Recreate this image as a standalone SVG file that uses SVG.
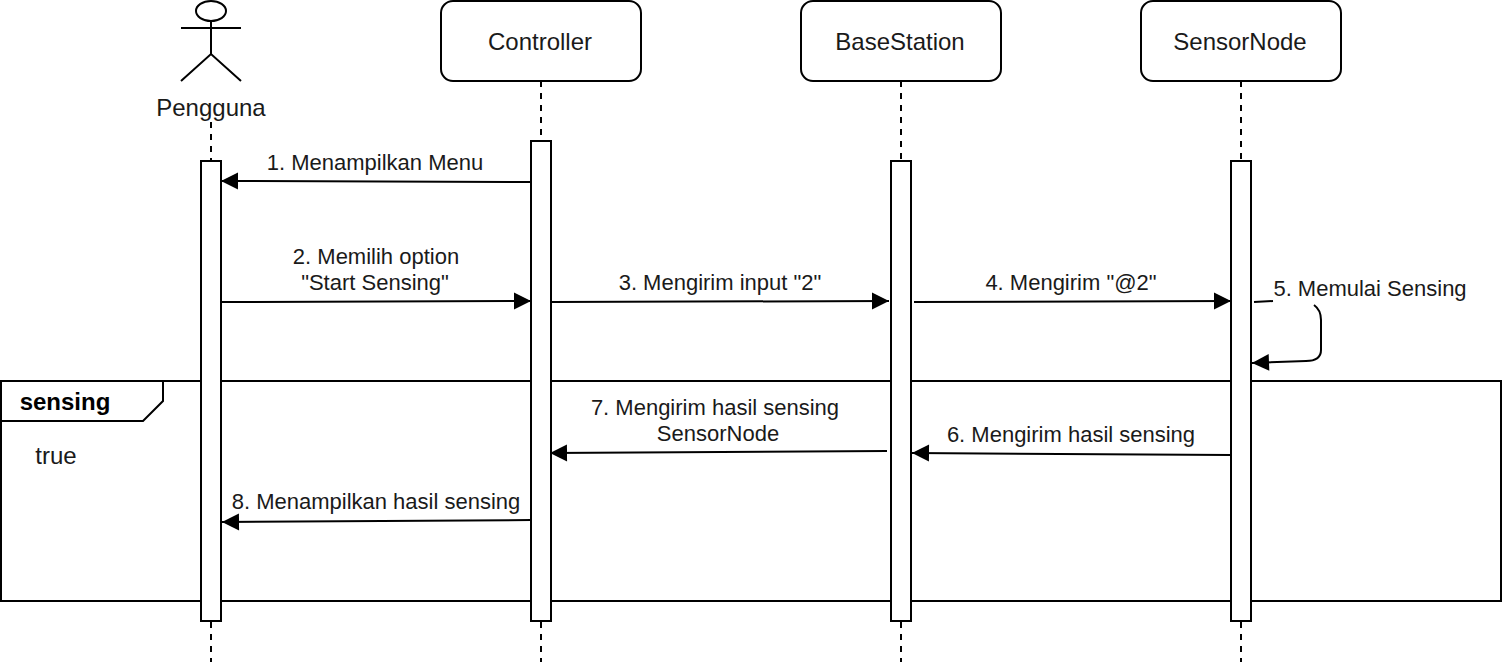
<svg xmlns="http://www.w3.org/2000/svg" width="1502" height="664" viewBox="0 0 1502 664">
<style>
text{font-family:"Liberation Sans",Arial,sans-serif;font-size:22px;fill:#1a1a1a;text-anchor:middle}
.l{font-size:24px}
.s{fill:none;stroke:#000;stroke-width:2}
.b{fill:#fff;stroke:#000;stroke-width:2}
.d{fill:none;stroke:#000;stroke-width:2;stroke-dasharray:6 6}
.a{fill:none;stroke:#000;stroke-width:2;marker-end:url(#h)}
</style>
<defs>
<marker id="h" markerUnits="userSpaceOnUse" markerWidth="20" markerHeight="20" refX="18" refY="9.5" orient="auto"><path d="M1 1L18 9.5L1 18Z" fill="#000"/></marker>
</defs>
<rect width="1502" height="664" fill="#fff"/>
<g id="lifelines">
<path class="d" d="M211 122V160M211 622V662"/>
<path class="d" d="M541 81V140M541 622V662"/>
<path class="d" d="M901 81V160M901 622V662"/>
<path class="d" d="M1241 81V160M1241 622V662"/>
</g>
<g id="frame-sensing">
<rect class="s" x="1" y="381" width="1500" height="220"/>
<path class="s" d="M1 421H143L163 401V381"/>
<text class="l" x="65" y="410" style="font-weight:bold;fill:#000">sensing</text>
<text class="l" x="56" y="464">true</text>
</g>
<g id="actor-pengguna">
<ellipse class="s" cx="211" cy="11" rx="15" ry="10"/>
<path class="s" d="M211 21V54M181 28H241M181 81L211 54L241 81"/>
<text class="l" x="211" y="116">Pengguna</text>
</g>
<g id="node-controller"><rect class="b" x="441" y="1" width="200" height="80" rx="12"/><text class="l" x="540" y="50">Controller</text></g>
<g id="node-basestation"><rect class="b" x="801" y="1" width="200" height="80" rx="12"/><text class="l" x="900" y="50">BaseStation</text></g>
<g id="node-sensornode"><rect class="b" x="1141" y="1" width="200" height="80" rx="12"/><text class="l" x="1240" y="50">SensorNode</text></g>
<g id="activations">
<rect class="b" x="201" y="161" width="20" height="460"/>
<rect class="b" x="531" y="141" width="20" height="480"/>
<rect class="b" x="891" y="161" width="20" height="460"/>
<rect class="b" x="1231" y="161" width="20" height="460"/>
</g>
<g id="connectors">
<path class="a" d="M531 182L221 181"/>
<path class="a" d="M221 302L531 301"/>
<path class="a" d="M551 302L889 301"/>
<path class="a" d="M914 302L1231 301"/>
<path class="s" d="M1254 302L1273 301"/>
<path class="a" d="M1314 305Q1321 310 1321 320V350Q1321 361 1306 361L1252 363"/>
<path class="a" d="M1231 455L912 453"/>
<path class="a" d="M887 451L550 453"/>
<path class="a" d="M531 520L222 522"/>
</g>
<g id="labels">
<text x="375" y="170">1. Menampilkan Menu</text>
<text x="376" y="264">2. Memilih option</text>
<text x="375" y="290">"Start Sensing"</text>
<text x="720" y="290">3. Mengirim input "2"</text>
<text x="1071" y="290">4. Mengirim "@2"</text>
<text x="1370" y="296">5. Memulai Sensing</text>
<text x="1071" y="442">6. Mengirim hasil sensing</text>
<text x="715" y="415">7. Mengirim hasil sensing</text>
<text x="718" y="441">SensorNode</text>
<text x="376" y="509">8. Menampilkan hasil sensing</text>
</g>
</svg>
